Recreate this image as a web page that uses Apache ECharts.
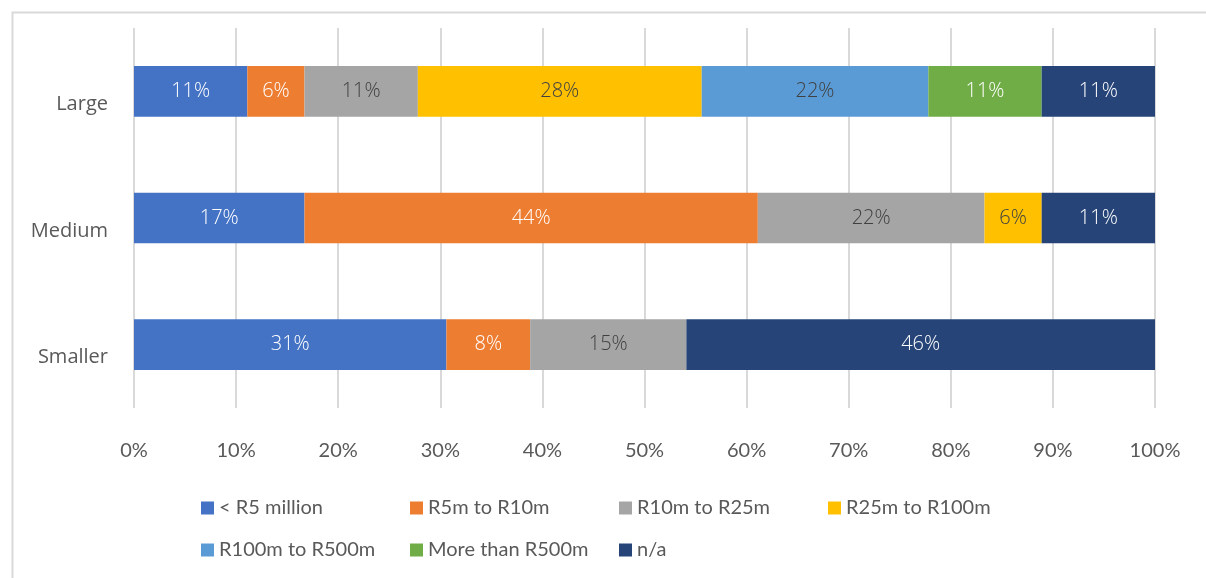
<!DOCTYPE html>
<html>
<head>
<meta charset="utf-8">
<title>Annual turnover by company size</title>
<script src="https://cdn.jsdelivr.net/npm/echarts@6/dist/echarts.min.js"></script>
<style>
  html, body { margin: 0; padding: 0; background: #ffffff; }
  #chart { width: 1206px; height: 578px; }
</style>
</head>
<body>
<div id="chart"></div>
<script>
// Company size groups, listed bottom to top on the category axis
const categories = ['Smaller', 'Medium', 'Large'];

// Turnover bands (legend order)
const bandNames = ['< R5 million', 'R5m to R10m', 'R10m to R25m', 'R25m to R100m',
                   'R100m to R500m', 'More than R500m', 'n/a'];

// Share of respondents per band, in percent: [Smaller, Medium, Large]
const under5m     = [30.6, 16.7, 11.1];
const r5to10m     = [8.2, 44.4, 5.6];
const r10to25m    = [15.3, 22.2, 11.1];
const r25to100m   = [null, 5.6, 27.8];
const r100to500m  = [null, null, 22.2];
const over500m    = [null, null, 11.1];
const notAnswered = [45.9, 11.1, 11.1];

// Percentage axis ticks
const axisMin = 0;
const axisMax = 100;
const axisStep = 10;

const bandValues = [under5m, r5to10m, r10to25m, r25to100m, r100to500m, over500m, notAnswered];
const bandColors = ['#4472C4', '#ED7D31', '#A5A5A5', '#FFC000', '#5B9BD5', '#70AD47', '#264478'];
const labelColors = ['#ffffff', '#ffffff', '#404040', '#404040', '#404040', '#ffffff', '#ffffff'];

const chart = echarts.init(document.getElementById('chart'), null, { renderer: 'canvas' });

const series = bandNames.map((name, i) => ({
  name: name,
  type: 'bar',
  stack: 'share',
  barCategoryGap: '60%',
  data: bandValues[i],
  itemStyle: { color: bandColors[i] },
  label: {
    show: true,
    position: 'inside',
    color: labelColors[i],
    fontFamily: 'Open Sans',
    fontWeight: 300,
    fontSize: 20,
    formatter: p => (p.value ? Math.round(p.value) + '%' : '')
  },
  emphasis: { disabled: true }
}));

chart.setOption({
  animation: false,
  backgroundColor: '#ffffff',
  graphic: [{
    type: 'rect',
    left: 10,
    top: 10,
    shape: { width: 1300, height: 700 },
    style: { fill: 'none', stroke: '#d9d9d9', lineWidth: 2 },
    silent: true,
    z: -10
  }],
  grid: { left: 134, right: 51, top: 28, bottom: 170, containLabel: false },
  xAxis: {
    type: 'value',
    min: axisMin,
    max: axisMax,
    interval: axisStep,
    axisLine: { show: false },
    axisTick: { show: false },
    splitLine: { show: true, lineStyle: { color: '#d9d9d9', width: 2 } },
    axisLabel: {
      color: '#595959',
      fontFamily: 'Lato',
      fontSize: 20,
      margin: 33,
      formatter: '{value}%'
    }
  },
  yAxis: {
    type: 'category',
    data: categories,
    axisLine: { show: false },
    axisTick: { show: false },
    axisLabel: {
      color: '#595959',
      fontFamily: 'Open Sans',
      fontSize: 20,
      margin: 26,
      verticalAlign: 'top',
      lineHeight: 26
    }
  },
  legend: {
    data: bandNames,
    left: 196,
    top: 487,
    width: 840,
    orient: 'horizontal',
    icon: 'rect',
    itemWidth: 13,
    itemHeight: 13,
    itemGap: 10,
    selectedMode: false,
    textStyle: {
      color: '#595959',
      fontFamily: 'Lato',
      fontSize: 20,
      width: 181,
      lineHeight: 32,
      overflow: 'none'
    }
  },
  series: series
});
</script>
</body>
</html>
